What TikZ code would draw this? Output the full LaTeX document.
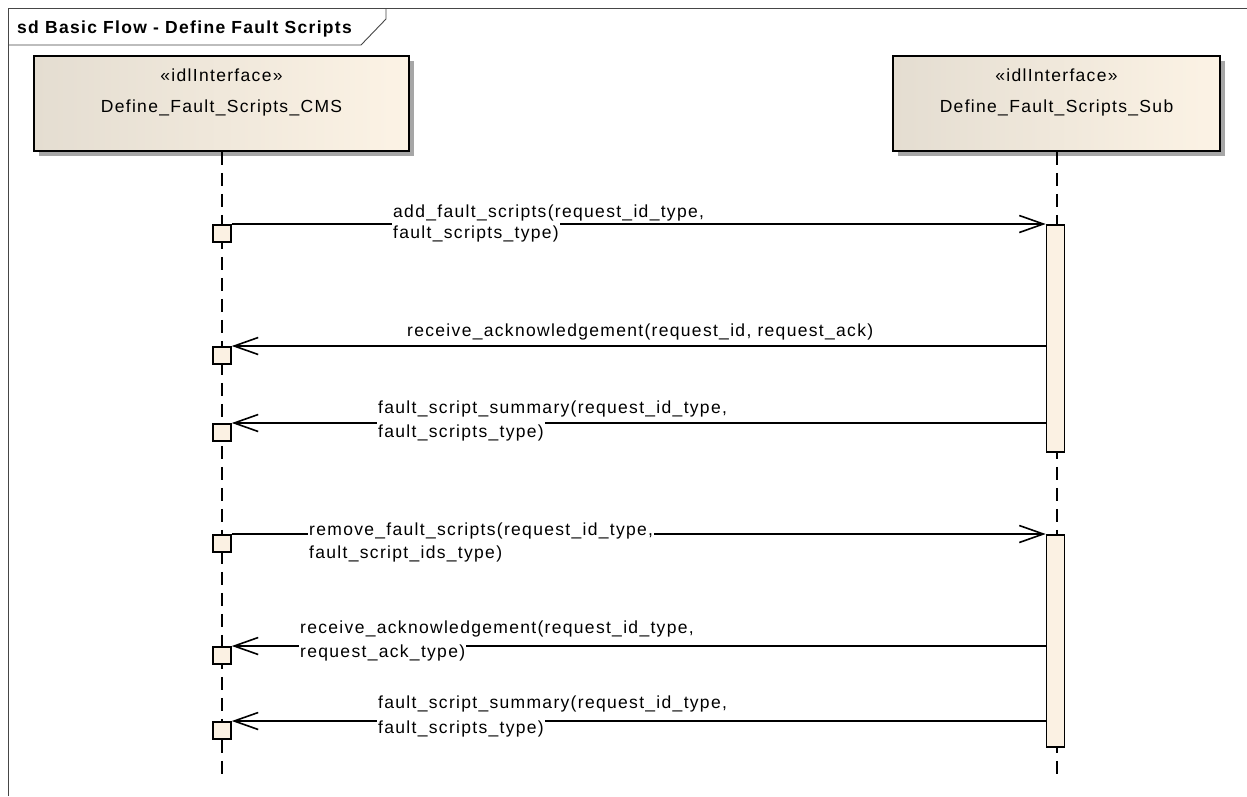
\documentclass[tikz,border=0pt]{standalone}
\usepackage{fontspec}
\setmainfont{Liberation Sans}[LetterSpace=7.5]
\usetikzlibrary{arrows.meta,shadows}
\definecolor{boxl}{RGB}{228,221,209}
\definecolor{boxr}{RGB}{252,243,229}
\definecolor{actfill}{RGB}{251,241,227}
\definecolor{framec}{RGB}{70,70,70}
\begin{document}
\begin{tikzpicture}[x=1pt,y=-1pt,
  every node/.style={font=\fontsize{17.5}{21}\selectfont},
  framestyle/.style={draw=framec, line width=0.9pt},
  lifebox/.style={draw=black, line width=1.7pt, inner sep=0pt,
    left color=boxl, right color=boxr,
    drop shadow={shadow xshift=5pt, shadow yshift=-5pt, fill=black!35, opacity=1}},
  boxtext/.style={anchor=base, inner sep=0pt},
  lifeline/.style={draw=black, line width=2pt, dash pattern=on 13pt off 8pt},
  sq/.style={draw=black, line width=1.6pt, fill=actfill, minimum width=18pt, minimum height=17pt, inner sep=0pt, anchor=north},
  actbar/.style={draw=black, line width=1.6pt, fill=actfill, minimum width=18pt, inner sep=0pt, anchor=north},
  msg/.style={draw=black, line width=1.6pt, -{Straight Barb[length=24pt,width=17pt,line width=1.6pt]}},
  lbl/.style={anchor=base west, fill=white, inner xsep=1pt, inner ysep=1pt, text height=15pt, text depth=4pt}
]
\useasboundingbox (0,0) rectangle (1247,796);
\fill[white] (0,0) rectangle (1247,796);
% frame
\draw[framestyle] (8,796) -- (8,8) -- (1247,8);
\draw[framestyle] (8,45) -- (361,45) -- (386,19) -- (386,8);
\node[anchor=base west, inner sep=0pt, font=\fontsize{17.5}{21}\selectfont\bfseries] (title) at (17,33) {sd Basic Flow - Define Fault Scripts};
% lifeline heads
\node[lifebox, minimum width=375pt, minimum height=95pt] (cms) at (221.5,103.5) {};
\node[boxtext] (cmsst) at (221.5,81) {«idlInterface»};
\node[boxtext] (cmsnm) at (221.5,112) {Define\_Fault\_Scripts\_CMS};
\node[lifebox, minimum width=327pt, minimum height=95pt] (sub) at (1056.5,103.5) {};
\node[boxtext] (subst) at (1056.5,81) {«idlInterface»};
\node[boxtext] (subnm) at (1056.5,112) {Define\_Fault\_Scripts\_Sub};
% lifelines
\coordinate (cmsend) at (221.5,779);
\coordinate (subend) at (1056.5,779);
\draw[lifeline] (cms.south) -- (cmsend);
\draw[lifeline] (sub.south) -- (subend);
% activations
\node[actbar, minimum height=227pt] (b1) at (1055.5,224) {};
\node[actbar, minimum height=212pt] (b2) at (1055.5,534) {};
\node[sq] (s1) at (222,224) {};
\node[sq] (s2) at (222,346) {};
\node[sq] (s3) at (222,423) {};
\node[sq] (s4) at (222,534) {};
\node[sq] (s5) at (222,646) {};
\node[sq] (s6) at (222,721) {};
% messages
\draw[msg] (s1.north east) -- (b1.west |- s1.north east);
\draw[msg] (b1.west |- s2.north east) -- (s2.north east);
\draw[msg] (b1.west |- s3.north east) -- (s3.north east);
\draw[msg] (s4.north east) -- (b2.west |- s4.north east);
\draw[msg] (b2.west |- s5.north east) -- (s5.north east);
\draw[msg] (b2.west |- s6.north east) -- (s6.north east);
% labels
\node[lbl] (m1a) at (392,217) {add\_fault\_scripts(request\_id\_type,};
\node[lbl] (m1b) at (392,238) {fault\_scripts\_type)};
\node[lbl] (m2) at (406,336) {receive\_acknowledgement(request\_id, request\_ack)};
\node[lbl] (m3a) at (377,413) {fault\_script\_summary(request\_id\_type,};
\node[lbl] (m3b) at (377,437) {fault\_scripts\_type)};
\node[lbl] (m4a) at (308,535) {remove\_fault\_scripts(request\_id\_type,};
\node[lbl] (m4b) at (308,558) {fault\_script\_ids\_type)};
\node[lbl] (m5a) at (299,633) {receive\_acknowledgement(request\_id\_type,};
\node[lbl] (m5b) at (299,657) {request\_ack\_type)};
\node[lbl] (m6a) at (377,708) {fault\_script\_summary(request\_id\_type,};
\node[lbl] (m6b) at (377,733) {fault\_scripts\_type)};
\end{tikzpicture}
\end{document}
